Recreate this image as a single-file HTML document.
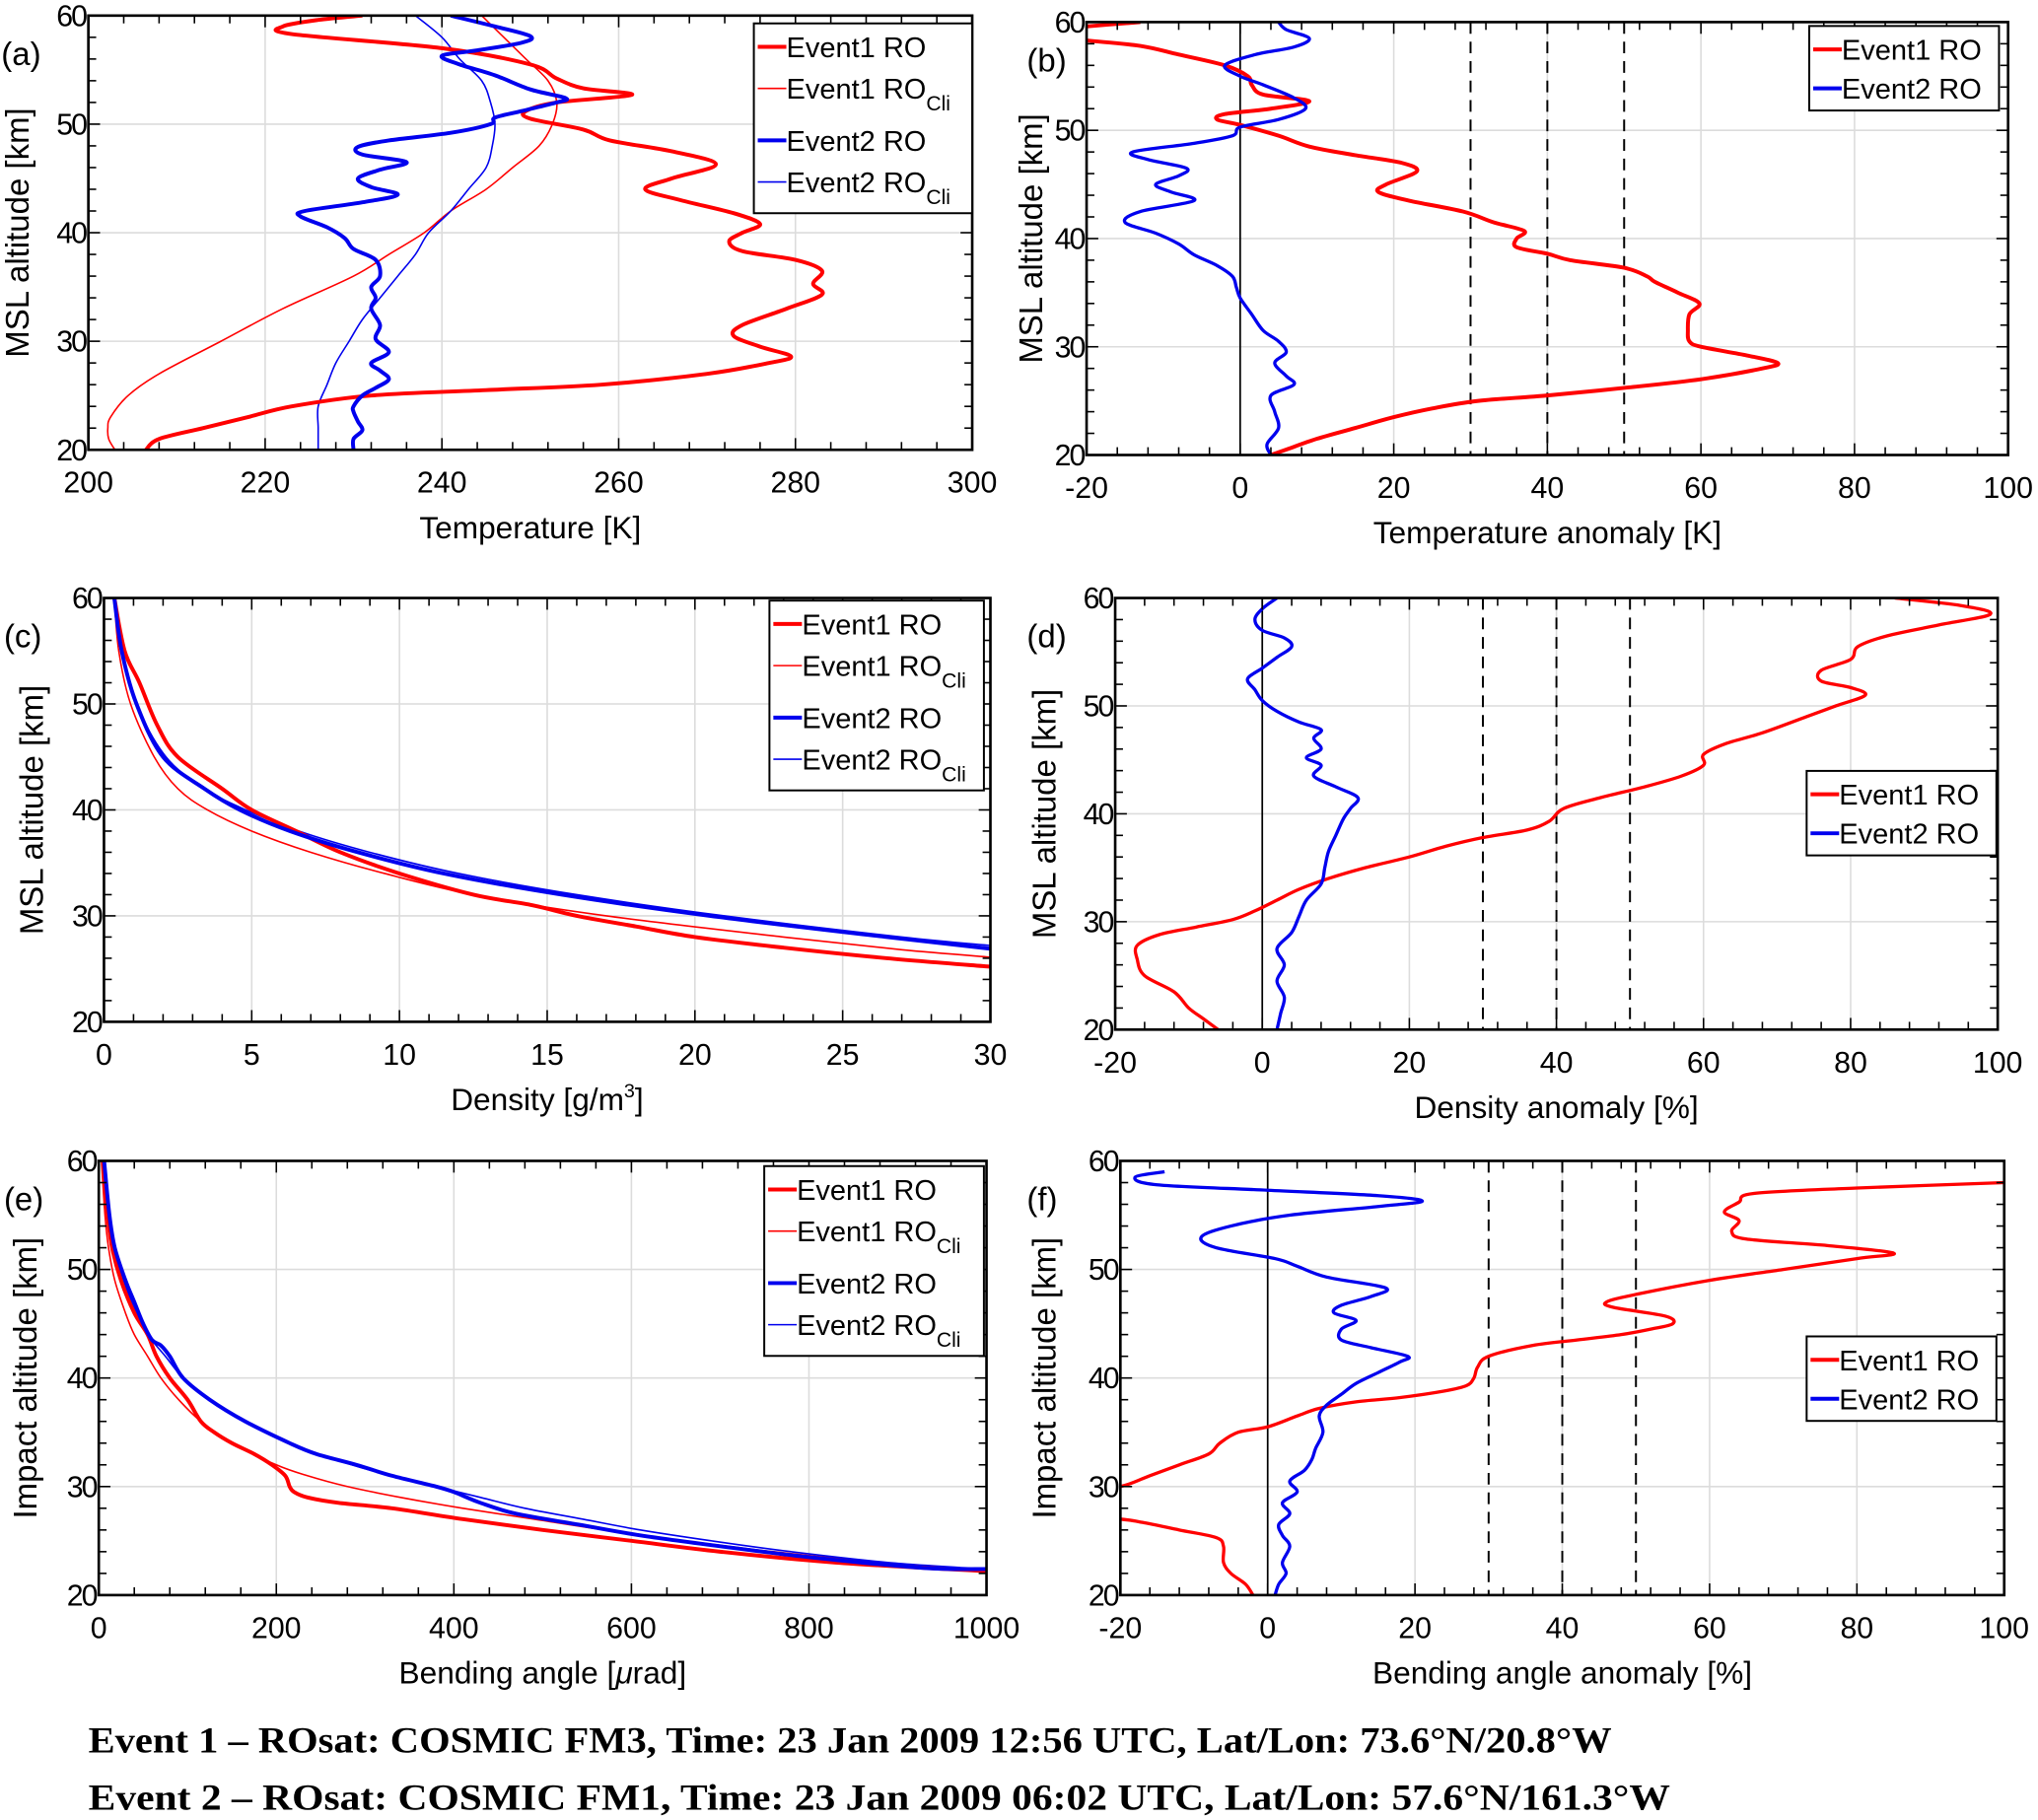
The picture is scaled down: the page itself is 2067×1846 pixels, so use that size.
<!DOCTYPE html>
<html><head><meta charset="utf-8">
<style>
html,body{margin:0;padding:0;background:#fff;}
svg{display:block;}
text{font-family:"Liberation Sans",sans-serif;}
</style></head>
<body>
<svg id="fig" width="2067" height="1846" viewBox="0 0 1568 1400" preserveAspectRatio="none" xmlns="http://www.w3.org/2000/svg">
<rect width="1568" height="1400" fill="#fff"/>
<text x="68" y="1348" font-weight="bold" font-size="28" textLength="1172" lengthAdjust="spacingAndGlyphs" style="font-family:'Liberation Serif',serif">Event 1  –  ROsat: COSMIC FM3, Time: 23 Jan 2009 12:56 UTC, Lat/Lon: 73.6°N/20.8°W</text>
<text x="68" y="1392" font-weight="bold" font-size="28" textLength="1217" lengthAdjust="spacingAndGlyphs" style="font-family:'Liberation Serif',serif">Event 2  –  ROsat: COSMIC FM1, Time: 23 Jan 2009 06:02 UTC, Lat/Lon: 57.6°N/161.3°W</text>
</svg>
<script>
// ---- data: [altitude km, value] ----
const aE1RO=[[20,206.5],[21,208],[22,213],[23,218],[24,223],[25,232],[25.5,245],[26,258],[27,270],[28,277],[28.6,279.5],[29.5,276],[30.5,273],[31.5,274],[33,279],[34.3,283],[35.3,282],[36.5,283],[37.5,280],[38.3,274],[39.2,272.5],[40,274],[40.8,276],[41.8,273],[43,267],[44,263],[45,266],[46.3,271],[47.5,266],[48.5,259],[49.5,256],[50.5,250],[51.2,249.5],[52,253],[52.7,261.5],[53.3,256],[54.2,253],[55.5,250],[57,240],[58.3,223],[59,222],[59.6,226],[60,231]];
const aE1Cli=[[20,203],[21,202.3],[22,202.2],[23,202.5],[25,204.5],[27,208],[30,215],[33,222],[36,230],[38,234],[40,238],[42,241],[44,245],[46,248],[48,251],[50,252.5],[52,253],[54,252],[56,249.5],[58,247],[60,244.5]];
const aE2RO=[[20,230],[21,230],[21.8,231],[22.6,230.5],[23.5,230],[24,230],[25,231],[25.7,232.5],[26.5,234],[27.3,233],[28,232],[29,234],[30.2,232.5],[31.5,233],[33,232],[34,232.5],[35,232],[36,233],[37.5,232.5],[38.5,230],[39.5,229],[40.5,227],[41.5,224],[42,224.5],[42.8,231],[43.5,235],[44.2,232],[45,230.5],[45.8,233],[46.5,236],[47.2,231],[47.9,230.5],[48.5,234],[49.2,241],[50,245.5],[50.6,246],[51.2,249],[52,253],[52.4,254],[53.2,250],[54.5,246],[55.5,242],[56.3,240],[56.8,244],[57.5,249],[58.1,250],[59,246],[60,241]];
const aE2Cli=[[20,226],[22,226],[24,226],[26,227],[28,228],[30,229.5],[32,231],[34,233],[36,235],[38,237],[40,238.5],[42,241],[44,243],[46,245],[48,245.7],[50,246],[52,245.5],[54,244.5],[56,242],[58,240],[60,237]];
const bE1=[[20,4],[20.5,6],[21.5,10],[22.5,15],[23.5,20],[24.3,25],[25,31],[25.5,40],[26.2,50],[27,60],[28,68],[28.5,70],[29.2,66],[30,60],[30.5,58.5],[31.5,58.3],[33,58.5],[34,59.8],[35,57],[36,54],[36.5,53],[37.3,50],[38,43],[38.6,40],[39.2,36],[40,36],[40.7,37],[41.5,33],[42.5,29],[43.5,22],[44.3,18],[45,19],[46.2,23],[47,21],[47.7,15],[48.5,9],[49.5,5],[50.5,0],[51,-3],[51.5,-2],[52,4],[52.7,9],[53.3,3],[54.2,1.5],[55,1],[56,-2],[57,-8],[57.8,-13],[58.3,-20],[58.7,-26],[59.2,-26],[59.6,-20],[60,-13]];
const bE2=[[20,4],[21,3.5],[22.5,5],[24,4.5],[25.5,4],[26.5,7],[27.3,6],[28.5,4.5],[29.5,6],[30.5,5],[31.5,3],[33,1.5],[34.5,0],[35.5,-0.5],[36.5,-1],[37.5,-3],[38.5,-6],[39.5,-8],[40.5,-11],[41.5,-15],[42.5,-13],[43.5,-6],[44.3,-9],[45,-11],[45.8,-8],[46.5,-7],[47.3,-12],[48,-14],[48.8,-6],[49.5,-1],[50.3,0],[51,5],[52,8.5],[53,7],[54.2,3],[55,0],[56,-2],[57,2],[57.7,7],[58.5,9],[59.3,6],[60,5]];
const cE1RO=[[25.2,30],[26,26.5],[27,23],[28,20],[29,18],[30,16],[31,14.5],[32,12.5],[34,10],[36,8],[38,6.5],[40,5],[42,4],[45,2.5],[48,1.8],[52,1.2],[55,0.7],[60,0.35]];
const cE1Cli=[[26.1,30],[26.8,27],[28,23],[30,17],[32,12.5],[34,9.5],[36,7],[38,5],[40,3.5],[42,2.5],[45,1.7],[50,0.9],[55,0.5],[60,0.35]];
const cE2RO=[[26.9,30],[28,26.5],[30,20.5],[32,15.5],[34,11.5],[36,8.6],[38,6.3],[40,4.6],[42,3.4],[45,2],[50,1.1],[55,0.6],[60,0.35]];
const cE2Cli=[[27.2,30],[28,27],[30,21],[32,16],[34,12],[36,9],[38,6.6],[40,4.8],[42,3.4],[45,2.1],[50,1.1],[55,0.6],[60,0.35]];
const dE1=[[20,-6],[21,-8],[22,-10],[23.5,-12],[25,-16],[26.5,-17],[27.8,-17],[28.8,-14],[29.5,-9],[30.2,-4],[31,-1],[32,2],[33,5],[34,9],[35,14],[36,20],[37,25],[37.8,30],[38.5,36],[39.3,39],[40.5,41],[41.5,46],[42.5,52],[43.5,57],[44.5,60],[45.5,60],[46.5,63],[47.5,68],[49,74],[50,78],[51,82],[51.7,80],[52.3,76],[53.3,76],[54.3,80],[55.5,81],[56.5,85],[57.5,92],[58.5,99],[59.3,95],[60,86]];
const dE2=[[20,2],[21.5,2.5],[23,3],[24.5,2],[26,3],[27.5,2],[29,4],[30.5,5],[32,6],[33.5,8],[35,8.5],[36.5,9],[38,10],[39.5,11],[40.5,12],[41.5,13],[42.5,10],[43.5,7],[44.5,8],[45.2,6],[46,8],[47,7],[47.8,8],[48.5,5],[49.5,2],[50.5,0],[51.5,-1],[52.5,-2],[53.5,0],[54.5,2],[55.5,4],[56.3,3],[57,0],[58,-1],[59,0],[60,2]];
const eE1RO=[[22.2,1000],[23,830],[24,700],[25,600],[26,500],[27,410],[28,330],[28.5,270],[29,235],[29.5,220],[30,215],[31,210],[32,195],[33,175],[34,150],[35,130],[36,115],[38,100],[40,80],[42,65],[44,55],[46,40],[49,25],[52,15],[55,10],[60,5]];
const eE1Cli=[[22.3,1000],[23,880],[24,760],[25,660],[26,570],[27,490],[28,410],[29,340],[30,280],[31,235],[32,200],[34,150],[36,115],[38,90],[40,70],[42,55],[44,40],[46,30],[49,18],[52,11],[55,7],[60,3]];
const eE2RO=[[22.4,1000],[22.5,930],[23.5,800],[24.5,700],[25.5,610],[26.5,540],[27.5,470],[28.5,430],[29.5,400],[30,380],[31,330],[32,290],[33,245],[34,215],[36,165],[38,125],[40,95],[42,80],[43,70],[43.5,60],[45,50],[47,40],[49,30],[52,18],[55,12],[60,6]];
const eE2Cli=[[22.4,1000],[23,890],[24,780],[25,690],[26,610],[27,545],[28,480],[29,430],[30,380],[31,330],[32,285],[34,215],[36,165],[38,125],[40,95],[42,75],[44,55],[46,42],[49,28],[52,17],[55,11],[60,5]];
const fE1=[[20,-2],[21,-3],[22,-5],[23,-6],[24.5,-6],[25.3,-7],[26,-12],[26.7,-17],[27,-20],[27.5,-28],[28.5,-30],[29.5,-26],[30,-20],[31,-16],[32,-12],[33,-8],[34,-6.5],[35,-4],[35.5,0],[36.5,4],[37.2,7],[37.8,12],[38.2,18],[38.8,24],[39.3,27],[40,28],[41,28.5],[42,30],[43,36],[43.5,42],[44,48],[44.5,52],[45,55],[45.7,54],[46.5,47],[47,46],[47.7,50],[49,60],[50,70],[51,80],[51.5,85],[52.2,76],[52.8,65],[53.5,63],[54.5,64],[55.3,62],[56.2,64],[57,66],[57.5,80],[58,100],[58.3,110]];
const fE2=[[20,1],[21,1.5],[22,2.5],[23,2],[24.5,3],[25.5,2],[26.5,1.5],[27.5,3],[28.5,2],[29.5,4],[30.5,3],[31.5,5],[32.5,6],[33.5,6.5],[35,7.5],[36.5,7],[37.5,8],[38.5,10],[39.5,12],[40.5,15],[41.5,18],[42,19],[42.8,14],[43.5,10],[44.5,10],[45.3,12],[46,9],[46.7,10],[47.5,14],[48.3,16],[49.3,8],[50.3,4],[51,1],[52,-7],[53,-9],[54,-5],[55,3],[55.8,15],[56.3,21],[56.8,15],[57.3,0],[57.8,-15],[58.5,-18],[59,-14]];
const aTicks=[200,220,240,260,280,300];
const anomTicks=[-20,0,20,40,60,80,100];
const cTicks=[0,5,10,15,20,25,30];
const eTicks=[0,200,400,600,800,1000];
const altTicks=[20,30,40,50,60];

const NS="http://www.w3.org/2000/svg";
const svg=document.getElementById('fig');
function mk(tag,attrs,parent){const e=document.createElementNS(NS,tag);for(const k in attrs)e.setAttribute(k,attrs[k]);(parent||svg).appendChild(e);return e;}
function smooth(pts){let d='M'+pts[0][0].toFixed(2)+','+pts[0][1].toFixed(2);for(let i=0;i<pts.length-1;i++){const p0=pts[Math.max(0,i-1)],p1=pts[i],p2=pts[i+1],p3=pts[Math.min(pts.length-1,i+2)];const c1=[p1[0]+(p2[0]-p0[0])/6,p1[1]+(p2[1]-p0[1])/6],c2=[p2[0]-(p3[0]-p1[0])/6,p2[1]-(p3[1]-p1[1])/6];d+='C'+c1.map(v=>v.toFixed(2))+' '+c2.map(v=>v.toFixed(2))+' '+p2.map(v=>v.toFixed(2));}return d;}

let clipId=0;
function panel(cfg){
  const g=mk('g',{});
  
  
  const {x0,x1,y0,y1,xmin,xmax}=cfg;
  const sx=v=>x0+(v-xmin)/(xmax-xmin)*(x1-x0);
  const sy=a=>y1-(a-20)/40*(y1-y0);
  cfg.xt.forEach(v=>{const l=mk('line',{x1:sx(v),x2:sx(v),y1:y0,y2:y1,stroke:'#dcdcdc','stroke-width':1.2},g);});
  altTicks.forEach(v=>{const l=mk('line',{x1:x0,x2:x1,y1:sy(v),y2:sy(v),stroke:'#dcdcdc','stroke-width':1.2},g);});
  if(cfg.anom){
    const z=mk('line',{x1:sx(0),x2:sx(0),y1:y0,y2:y1,stroke:'#000','stroke-width':1.3},g);
    [30,40,50].forEach(v=>{const l=mk('line',{x1:sx(v),x2:sx(v),y1:y0,y2:y1,stroke:'#000','stroke-width':1.5,'stroke-dasharray':'9,6'},g);});
  }
  const id='c'+(clipId++);
  const cp=mk('clipPath',{id:id},g);mk('rect',{x:x0,y:y0,width:x1-x0,height:y1-y0},cp);
  cfg.series.forEach(s=>{const p=mk('path',{d:smooth(s.data.map(q=>[sx(q[1]),sy(q[0])])),fill:'none',stroke:s.c,'stroke-width':s.w,'clip-path':'url(#'+id+')','stroke-linejoin':'round'},g);});
  const xs=(cfg.xt[1]-cfg.xt[0])/cfg.minor;
  for(let v=xmin;v<=xmax+1e-9;v+=xs){const X=sx(v);const major=cfg.xt.some(t=>Math.abs(t-v)<1e-6);const L=major?9:6;mk('line',{x1:X,x2:X,y1:y1,y2:y1-L,stroke:'#000','stroke-width':1.2},g);mk('line',{x1:X,x2:X,y1:y0,y2:y0+L,stroke:'#000','stroke-width':1.2},g);}
  for(let v=20;v<=60;v+=2){const Y=sy(v);const L=(v%10===0)?9:6;mk('line',{x1:x0,x2:x0+L,y1:Y,y2:Y,stroke:'#000','stroke-width':1.2},g);mk('line',{x1:x1,x2:x1-L,y1:Y,y2:Y,stroke:'#000','stroke-width':1.2},g);}
  const fr=mk('rect',{x:x0,y:y0,width:x1-x0,height:y1-y0,fill:'none',stroke:'#000','stroke-width':2},g);
  cfg.xt.forEach(v=>{const t=mk('text',{x:sx(v),y:y1+33,'text-anchor':'middle','font-size':23},g);t.textContent=v;});
  altTicks.forEach(v=>{const t=mk('text',{x:x0-2,y:sy(v)+8,'text-anchor':'end','font-size':23,'letter-spacing':'-1.5'},g);t.textContent=v;});
  const xl=mk('text',{x:(x0+x1)/2,y:y1+68,'text-anchor':'middle','font-size':24},g);xl.innerHTML=cfg.xlabel;
  const yc=(y0+y1)/2;
  const yl=mk('text',{x:cfg.ylx,y:yc,'text-anchor':'middle','font-size':25,transform:'rotate(-90 '+cfg.ylx+' '+yc+')'},g);yl.textContent=cfg.ylabel;
  const pl=mk('text',{x:cfg.plx,y:y0+38,'font-size':25},g);pl.textContent=cfg.tag;
  const L=cfg.leg;const lg=mk('g',{},g);
  mk('rect',{x:L.x,y:L.y,width:L.w,height:L.h,fill:'#fff',stroke:'#000','stroke-width':1.5},lg);
  L.items.forEach(it=>{const e=mk('g',{},lg);
    mk('line',{x1:L.x+3,x2:L.x+25,y1:it.y,y2:it.y,stroke:it.c,'stroke-width':it.w},e);
    const t=mk('text',{x:L.x+25,y:it.y+8,'font-size':22},e);t.innerHTML=it.t+(it.sub?'<tspan font-size="16" dy="9">Cli</tspan>':'');});
}
const R='#f00',B='#0000ee';
function leg4(x,y,w){return {x:x,y:y,w:w,h:146,items:[{y:y+18,c:R,w:3,t:'Event1 RO'},{y:y+50,c:R,w:1.2,t:'Event1 RO',sub:1},{y:y+90,c:B,w:3,t:'Event2 RO'},{y:y+122,c:B,w:1.2,t:'Event2 RO',sub:1}]};}
function leg2(x,y){return {x:x,y:y,w:146,h:65,items:[{y:y+18,c:R,w:3,t:'Event1 RO'},{y:y+48,c:B,w:3,t:'Event2 RO'}]};}
panel({name:'panel-a-temperature',tag:'(a)',plx:1,ylx:22,x0:68,x1:748,y0:12,y1:346,xmin:200,xmax:300,xt:aTicks,minor:5,xlabel:'Temperature [K]',ylabel:'MSL altitude [km]',
 series:[{data:aE1Cli,c:R,w:1.2,n:'event1-clim-line'},{data:aE2Cli,c:B,w:1.2,n:'event2-clim-line'},{data:aE1RO,c:R,w:3,n:'event1-ro-line'},{data:aE2RO,c:B,w:3,n:'event2-ro-line'}],leg:leg4(580,18,168)});
panel({name:'panel-b-temperature-anomaly',tag:'(b)',plx:790,ylx:802,x0:836,x1:1545,y0:17,y1:350,xmin:-20,xmax:100,xt:anomTicks,minor:5,anom:1,xlabel:'Temperature anomaly [K]',ylabel:'MSL altitude [km]',
 series:[{data:bE1,c:R,w:3,n:'event1-ro-anomaly'},{data:bE2,c:B,w:2.5,n:'event2-ro-anomaly'}],leg:leg2(1392,20)});
panel({name:'panel-c-density',tag:'(c)',plx:3,ylx:33,x0:80,x1:762,y0:460,y1:786,xmin:0,xmax:30,xt:cTicks,minor:5,xlabel:'Density [g/m<tspan font-size="15" dy="-10">3</tspan><tspan dy="10">]</tspan>',ylabel:'MSL altitude [km]',
 series:[{data:cE1Cli,c:R,w:1.2,n:'event1-clim-line'},{data:cE2Cli,c:B,w:1.2,n:'event2-clim-line'},{data:cE1RO,c:R,w:3,n:'event1-ro-line'},{data:cE2RO,c:B,w:3,n:'event2-ro-line'}],leg:leg4(592,462,165)});
panel({name:'panel-d-density-anomaly',tag:'(d)',plx:790,ylx:812,x0:858,x1:1537,y0:460,y1:792,xmin:-20,xmax:100,xt:anomTicks,minor:5,anom:1,xlabel:'Density anomaly [%]',ylabel:'MSL altitude [km]',
 series:[{data:dE1,c:R,w:2.5,n:'event1-ro-anomaly'},{data:dE2,c:B,w:2.5,n:'event2-ro-anomaly'}],leg:leg2(1390,593)});
panel({name:'panel-e-bending-angle',tag:'(e)',plx:3,ylx:28,x0:76,x1:759,y0:893,y1:1227,xmin:0,xmax:1000,xt:eTicks,minor:5,xlabel:'Bending angle [<tspan font-style="italic">μ</tspan>rad]',ylabel:'Impact altitude [km]',
 series:[{data:eE1Cli,c:R,w:1.2,n:'event1-clim-line'},{data:eE2Cli,c:B,w:1.2,n:'event2-clim-line'},{data:eE1RO,c:R,w:3,n:'event1-ro-line'},{data:eE2RO,c:B,w:3,n:'event2-ro-line'}],leg:leg4(588,897,169)});
panel({name:'panel-f-bending-angle-anomaly',tag:'(f)',plx:790,ylx:812,x0:862,x1:1542,y0:893,y1:1227,xmin:-20,xmax:100,xt:anomTicks,minor:5,anom:1,xlabel:'Bending angle anomaly [%]',ylabel:'Impact altitude [km]',
 series:[{data:fE1,c:R,w:2.5,n:'event1-ro-anomaly'},{data:fE2,c:B,w:2.5,n:'event2-ro-anomaly'}],leg:leg2(1390,1028)});
</script>
</body></html>
